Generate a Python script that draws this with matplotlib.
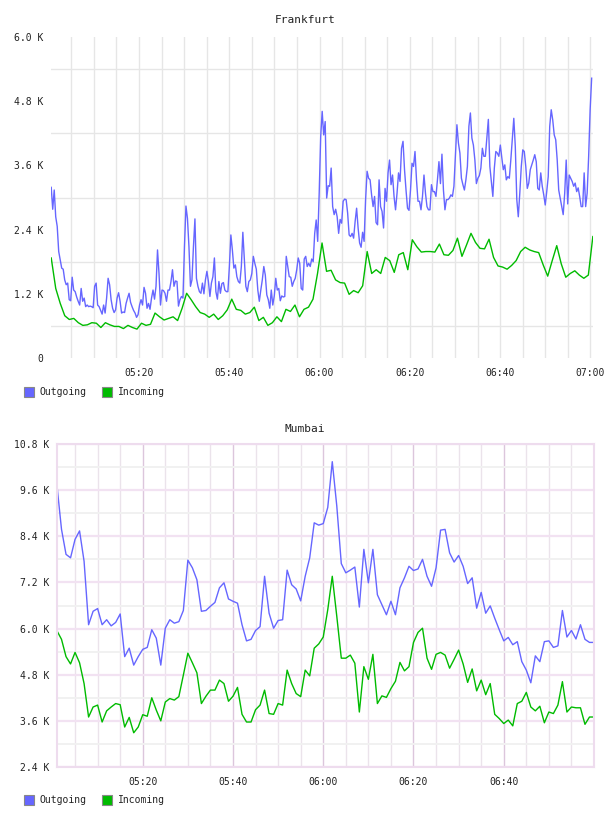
import pandas as pd
import matplotlib
matplotlib.use('Agg')
import matplotlib.pyplot as plt
import matplotlib.dates as mdates
from matplotlib.ticker import FuncFormatter, FixedLocator
from matplotlib.patches import Rectangle

plt.rcParams['font.family'] = ['DejaVu Sans Mono']

# values in thousands
fra_out = [
    3.19, 2.78, 3.14, 2.64, 2.46, 1.99, 1.83, 1.68, 1.66, 1.46,
    1.37, 1.40, 1.09, 1.07, 1.51, 1.27, 1.24, 1.14, 1.06, 0.99,
    1.30, 1.06, 1.12, 0.96, 0.99, 0.96, 0.97, 0.96, 0.94, 1.34,
    1.40, 0.99, 0.96, 0.89, 0.82, 0.99, 0.84, 1.12, 1.49, 1.37,
    1.09, 0.93, 0.85, 0.90, 1.12, 1.22, 1.06, 0.84, 0.86, 0.85,
    1.02, 1.12, 1.21, 1.04, 0.96, 0.89, 0.84, 0.76, 0.81, 0.99,
    1.09, 0.99, 1.32, 1.21, 0.93, 1.02, 0.91, 1.12, 1.27, 1.10,
    1.34, 2.02, 1.58, 0.99, 1.27, 1.26, 1.21, 1.06, 1.27, 1.27,
    1.43, 1.65, 1.34, 1.44, 1.43, 0.97, 1.09, 1.15, 1.12, 2.08,
    2.84, 2.61, 2.08, 1.34, 1.46, 2.08, 2.60, 1.49, 1.34, 1.24,
    1.21, 1.40, 1.20, 1.46, 1.62, 1.43, 1.15, 1.40, 1.52, 1.87,
    1.24, 1.10, 1.43, 1.21, 1.39, 1.41, 1.27, 1.24, 1.24, 1.71,
    2.30, 2.02, 1.68, 1.74, 1.52, 1.43, 1.40, 1.71, 2.35, 1.83,
    1.34, 1.24, 1.43, 1.46, 1.58, 1.90, 1.77, 1.66, 1.27, 1.06,
    1.27, 1.46, 1.71, 1.55, 1.18, 1.09, 0.93, 1.27, 0.99, 1.16,
    1.49, 1.27, 1.30, 1.07, 1.16, 1.14, 1.15, 1.90, 1.71, 1.52,
    1.51, 1.34, 1.43, 1.49, 1.65, 1.87, 1.77, 1.30, 1.27, 1.85,
    1.90, 1.71, 1.77, 1.71, 1.85, 1.80, 2.33, 2.58, 2.18, 3.08,
    4.14, 4.61,
    4.17, 4.42, 2.99, 3.22, 3.21, 3.55, 2.83, 2.68, 2.78, 2.64,
    2.33, 2.59, 2.52, 2.93, 2.97, 2.96, 2.71, 2.30, 2.27, 2.33,
    2.24, 2.55, 2.80, 2.43, 2.15, 2.07, 2.35, 2.18, 2.96, 3.49,
    3.36, 3.33, 3.05, 2.83, 3.02, 2.53, 2.49, 3.33, 2.83, 2.74,
    2.43, 3.17, 2.93, 3.46, 3.70, 3.24, 3.42, 3.02, 2.77, 3.08,
    3.46, 3.30, 3.92, 4.05, 3.52, 3.14, 2.80, 2.76, 3.14, 3.64,
    3.58, 3.86, 3.33, 2.93, 2.93, 2.77, 3.02, 3.42, 3.08, 2.83,
    2.77, 2.77, 3.24, 3.11, 3.11, 3.02, 3.33, 3.67, 3.26, 3.81,
    3.14, 2.77, 2.96, 2.96, 2.99, 3.05, 3.02, 3.21, 3.77, 4.36,
    4.02, 3.83, 3.36, 3.24, 3.14, 3.33, 3.58, 4.33, 4.58, 4.11,
    3.98, 3.70, 3.26, 3.36, 3.41, 3.55, 3.92, 3.77, 3.77, 4.11,
    4.46, 3.58, 3.30, 3.02, 3.55, 3.86, 3.83, 3.77, 3.98, 3.74,
    3.52, 3.61, 3.33, 3.39, 3.36, 3.70, 4.08, 4.48, 3.95, 2.96,
    2.64, 3.08, 3.58, 3.89, 3.86, 3.58, 3.17, 3.27, 3.52, 3.61,
    3.70, 3.80, 3.67, 3.17, 3.14, 3.46, 3.21, 3.05, 2.86, 3.11,
    3.39, 4.33, 4.64, 4.45, 4.17, 4.08, 3.70, 3.14, 2.99, 2.83,
    2.68, 3.08, 3.70, 2.88, 3.42, 3.36, 3.30, 3.21, 3.27, 3.11,
    3.18, 3.02, 2.83, 2.83, 3.46, 2.83, 3.08, 3.77, 4.64, 5.23,
]
fra_in = [
    1.87, 1.30, 1.02, 0.79, 0.72, 0.74, 0.66, 0.61, 0.62, 0.66,
    0.65, 0.57, 0.66, 0.62, 0.59, 0.59, 0.55, 0.61, 0.57, 0.54,
    0.65, 0.61, 0.63, 0.84, 0.77, 0.71, 0.74, 0.77, 0.70, 0.93,
    1.21, 1.09, 0.96, 0.85, 0.82, 0.76, 0.82, 0.72, 0.79, 0.90,
    1.10, 0.91, 0.89, 0.82, 0.85, 0.95, 0.70, 0.76, 0.61, 0.66,
    0.77, 0.68, 0.91, 0.87, 0.99, 0.77, 0.91, 0.95, 1.10, 1.58,
    2.15, 1.62, 1.64, 1.46, 1.41, 1.40, 1.19, 1.26, 1.22, 1.35,
    1.99, 1.58, 1.65, 1.58, 1.88, 1.82, 1.60, 1.93, 1.97, 1.65,
    2.21, 2.08, 1.98, 1.99, 1.99, 1.98, 2.13, 1.93, 1.92, 2.01,
    2.24, 1.90, 2.11, 2.33, 2.16, 2.05, 2.04, 2.22, 1.88, 1.72,
    1.70, 1.66, 1.73, 1.82, 1.99, 2.07, 2.02, 1.99, 1.97, 1.74,
    1.53, 1.82, 2.10, 1.76, 1.51, 1.58, 1.63, 1.55, 1.49, 1.55,
    2.27,
]
mum_out = [
    9.71, 8.58, 7.93, 7.84, 8.32, 8.54, 7.75, 6.10, 6.45, 6.52,
    6.10, 6.23, 6.07, 6.16, 6.38, 5.27, 5.49, 5.05, 5.27, 5.46,
    5.51, 5.97, 5.75, 5.05, 6.01, 6.23, 6.14, 6.18, 6.47, 7.78,
    7.58, 7.27, 6.45, 6.47, 6.58, 6.68, 7.06, 7.19, 6.77, 6.71,
    6.66, 6.10, 5.68, 5.72, 5.95, 6.05, 7.36, 6.40, 6.01, 6.21,
    6.23, 7.52, 7.14, 7.03, 6.72, 7.36, 7.84, 8.75, 8.69, 8.73,
    9.15, 10.34, 9.19, 7.69, 7.45, 7.52, 7.60, 6.56, 8.06, 7.19,
    8.06, 6.88, 6.62, 6.36, 6.71, 6.36, 7.06, 7.32, 7.62, 7.51,
    7.55, 7.80, 7.36, 7.10, 7.58, 8.56, 8.58, 7.97, 7.73, 7.90,
    7.62, 7.17, 7.32, 6.53, 6.94, 6.40, 6.59, 6.27, 5.97, 5.68,
    5.77, 5.58, 5.66, 5.14, 4.92, 4.59, 5.29, 5.14, 5.66, 5.68,
    5.51, 5.55, 6.47, 5.78, 5.95, 5.73, 6.10, 5.72, 5.64, 5.64,
]
mum_in = [
    5.94, 5.72, 5.27, 5.08, 5.38, 5.11, 4.57, 3.70, 3.96, 4.01,
    3.57, 3.86, 3.96, 4.05, 4.02, 3.44, 3.69, 3.29, 3.44, 3.76,
    3.72, 4.20, 3.88, 3.60, 4.09, 4.18, 4.14, 4.23, 4.79, 5.36,
    5.11, 4.85, 4.05, 4.24, 4.40, 4.40, 4.66, 4.57, 4.11, 4.24,
    4.47, 3.77, 3.57, 3.57, 3.89, 4.01, 4.40, 3.79, 3.77, 4.05,
    4.01, 4.92, 4.57, 4.31, 4.23, 4.92, 4.77, 5.49, 5.60, 5.78,
    6.49, 7.36, 6.32, 5.23, 5.23, 5.31, 5.10, 3.83, 5.01, 4.68,
    5.33, 4.05, 4.25, 4.21, 4.44, 4.63, 5.12, 4.90, 5.01, 5.64,
    5.90, 6.01, 5.23, 4.94, 5.33, 5.38, 5.31, 4.97, 5.20, 5.44,
    5.08, 4.60, 4.95, 4.38, 4.66, 4.28, 4.57, 3.77, 3.66, 3.53,
    3.62, 3.47, 4.05, 4.11, 4.34, 3.96, 3.86, 3.98, 3.55, 3.83,
    3.79, 4.01, 4.62, 3.83, 3.96, 3.94, 3.94, 3.51, 3.70, 3.70,
]

day = '2024-01-01 '
fra_out_t = pd.date_range(day + '05:00:33', day + '07:00:17', periods=len(fra_out))
fra_in_t = pd.date_range(day + '05:00:33', periods=len(fra_in), freq='1min')
mum_t = pd.date_range(day + '05:01', periods=len(mum_out), freq='1min')

BLUE = '#6666ff'
GREEN = '#00bb00'
TXT = '#222222'
W, H = 608, 816


def kfmt(v, pos):
    if abs(v) < 1e-9:
        return '0'
    return '%.1f K' % v


def time_axis(ax, hours):
    ax.xaxis.set_major_locator(mdates.MinuteLocator(byminute=[0, 20, 40]))
    ax.xaxis.set_minor_locator(mdates.MinuteLocator(byminute=range(0, 60, 5)))
    ax.xaxis.set_major_formatter(FuncFormatter(
        lambda v, pos: mdates.num2date(v).strftime('%H:%M')
        if mdates.num2date(v).strftime('%H:%M') in hours else ''))
    ax.yaxis.set_major_formatter(FuncFormatter(kfmt))
    ax.tick_params(which='both', length=0, labelsize=7, colors=TXT)
    ax.tick_params(axis='x', pad=7)
    ax.tick_params(axis='y', pad=5.5)


def legend(ytop):
    fig = plt.gcf()
    for x0, tx, col, name in [(24, 39, BLUE, 'Outgoing'), (102, 118, GREEN, 'Incoming')]:
        fig.add_artist(Rectangle((x0 / W, 1 - (ytop + 10) / H), 10 / W, 10 / H,
                                 transform=fig.transFigure, fc=col, ec='#888888', lw=0.8))
        fig.text(tx / W, 1 - (ytop + 5) / H, name, fontsize=7, va='center', color=TXT)


fig = plt.figure(figsize=(W / 100, H / 100), dpi=100)

# Frankfurt
ax1 = fig.add_axes([51 / W, 1 - 358 / H, 542 / W, 321 / H])
ax1.plot(fra_in_t, fra_in, color=GREEN, lw=1.0)
ax1.plot(fra_out_t, fra_out, color=BLUE, lw=1.0)
ax1.set_xlim(pd.Timestamp(day + '05:00:30'), pd.Timestamp(day + '07:00:35'))
ax1.set_ylim(0, 6.0)
ax1.yaxis.set_major_locator(FixedLocator([0, 1.2, 2.4, 3.6, 4.8, 6.0]))
ax1.yaxis.set_minor_locator(FixedLocator([0.6, 1.8, 3.0, 4.2, 5.4]))
time_axis(ax1, ['05:20', '05:40', '06:00', '06:20', '06:40', '07:00'])
ax1.grid(which='minor', color='#e6e6e6', lw=1.0)
ax1.grid(which='major', axis='x', color='#e6e6e6', lw=1.0)
ax1.set_axisbelow(True)
for s in ax1.spines.values():
    s.set_visible(False)
fig.text(305 / W, 1 - 20 / H, 'Frankfurt', ha='center', va='center', fontsize=8, color=TXT)
legend(387)

# Mumbai
ax2 = fig.add_axes([57 / W, 1 - 767 / H, 537 / W, 323 / H])
ax2.plot(mum_t, mum_in, color=GREEN, lw=1.0)
ax2.plot(mum_t, mum_out, color=BLUE, lw=1.0)
ax2.set_xlim(mum_t[0], mum_t[-1])
ax2.set_ylim(2.4, 10.8)
ax2.yaxis.set_major_locator(FixedLocator([2.4, 3.6, 4.8, 6.0, 7.2, 8.4, 9.6, 10.8]))
ax2.yaxis.set_minor_locator(FixedLocator([3.0, 4.2, 5.4, 6.6, 7.8, 9.0, 10.2]))
time_axis(ax2, ['05:20', '05:40', '06:00', '06:20', '06:40'])
ax2.grid(which='major', axis='y', color='#f2e2f2', lw=1.6)
ax2.grid(which='minor', axis='y', color='#f1f1f1', lw=1.4)
ax2.grid(which='major', axis='x', color='#dcc6dc', lw=1.0)
ax2.grid(which='minor', axis='x', color='#ebe3eb', lw=1.0)
ax2.set_axisbelow(True)
for s in ax2.spines.values():
    s.set_color('#eedcee')
    s.set_linewidth(1.5)
fig.text(305 / W, 1 - 429 / H, 'Mumbai', ha='center', va='center', fontsize=8, color=TXT)
legend(795)

fig.savefig('out.png', dpi=100)
